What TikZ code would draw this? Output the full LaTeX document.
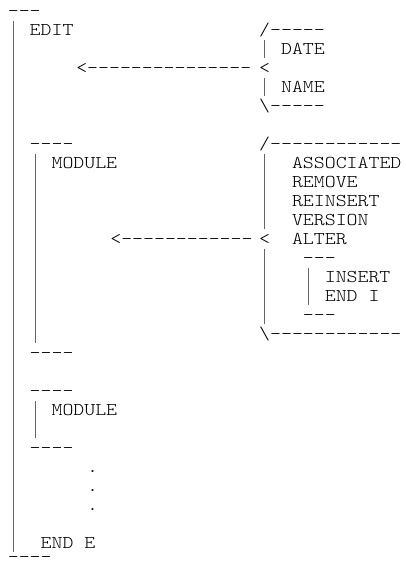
\documentclass[tikz,border=0pt]{standalone}
\usepackage{fontspec}
\newfontfamily\cmono{lmmonolt10-regular.otf}[FakeStretch=1.157]
\newcommand\dd{-{}}
\newcommand\gtxt[4]{\node[txt] (#1) at ({7.85+(#2)*10.93},{-16-19*(#3)}) {#4};}
\newcommand\gbar[4]{%
  \coordinate (#1a) at ({7.85+(#2+0.5)*10.93},{-(11+19*(#3))+9});
  \coordinate (#1b) at ({7.85+(#2+0.5)*10.93},{-(11+19*(#4))-9});
  \draw[bar] (#1a) -- (#1b);}
\tikzset{
  txt/.style={anchor=base west, inner sep=0pt, outer sep=0pt,
    font=\cmono\fontsize{18}{19}\selectfont, text=black},
  bar/.style={line width=0.9pt, draw=black!60},
}
\begin{document}
\begin{tikzpicture}[x=1pt,y=1pt]
\useasboundingbox[fill=white] (0,0) rectangle (405,-563);
% left column
\gtxt{d0}{0}{0}{\dd\dd\dd}
\gtxt{edit}{2}{1}{EDIT}
\gtxt{arrowA}{6.26}{3}{<\dd\dd\dd\dd\dd\dd\dd\dd\dd\dd\dd\dd\dd\dd\dd}
\gtxt{mtopA}{2}{7}{\dd\dd\dd\dd}
\gtxt{moduleA}{4}{8}{MODULE}
\gtxt{arrowB}{9.38}{12}{<\dd\dd\dd\dd\dd\dd\dd\dd\dd\dd\dd\dd}
\gtxt{mbotA}{2}{18}{\dd\dd\dd\dd}
\gtxt{mtopB}{2}{20}{\dd\dd\dd\dd}
\gtxt{moduleB}{4}{21}{MODULE}
\gtxt{mbotB}{2}{23}{\dd\dd\dd\dd}
\gtxt{dotA}{7.26}{24}{.}
\gtxt{dotB}{7.26}{25}{.}
\gtxt{dotC}{7.26}{26}{.}
\gtxt{ende}{3}{28}{END E}
\gtxt{d29}{0}{28.77}{\dd\dd\dd\dd}
% right column, first bracket
\gtxt{brA}{23}{1}{/\dd\dd\dd\dd\dd}
\gtxt{date}{25}{2}{DATE}
\gtxt{ltA}{23}{3}{<}
\gtxt{name}{25}{4}{NAME}
\gtxt{brAend}{23}{5}{\textbackslash\dd\dd\dd\dd\dd}
% second bracket
\gtxt{brB}{23}{7}{/\dd\dd\dd\dd\dd\dd\dd\dd\dd\dd\dd\dd}
\gtxt{assoc}{26}{8}{ASSOCIATED}
\gtxt{remove}{26}{9}{REMOVE}
\gtxt{reinsert}{26}{10}{REINSERT}
\gtxt{version}{26}{11}{VERSION}
\gtxt{ltB}{23}{12}{<}
\gtxt{alter}{26}{12}{ALTER}
\gtxt{itop}{27}{13}{\dd\dd\dd}
\gtxt{insert}{29}{14}{INSERT}
\gtxt{endi}{29}{15}{END I}
\gtxt{ibot}{27}{16}{\dd\dd\dd}
\gtxt{brBend}{23}{17}{\textbackslash\dd\dd\dd\dd\dd\dd\dd\dd\dd\dd\dd\dd}
% vertical bars
\gbar{outer}{0}{1}{28}
\gbar{mbarA}{2}{8}{17}
\gbar{mbarB}{2}{21}{22}
\gbar{rA1}{23}{2}{2}
\gbar{rA2}{23}{4}{4}
\gbar{rB1}{23}{8}{11}
\gbar{rB2}{23}{13}{16}
\gbar{ibar}{27}{14}{15}
\end{tikzpicture}
\end{document}
